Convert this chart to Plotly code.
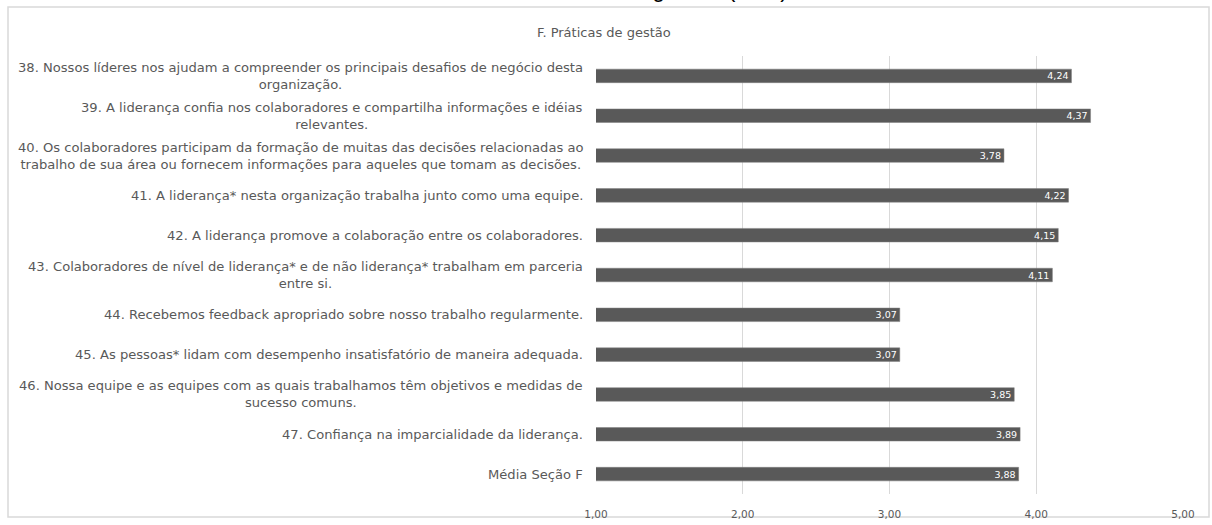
import plotly.graph_objects as go

# Survey items (section F) and their mean scores
itens = [
    "38. Nossos líderes nos ajudam a compreender os principais desafios de negócio desta<br>organização.",
    "39. A liderança confia nos colaboradores e compartilha informações e idéias<br>relevantes.",
    "40. Os colaboradores participam da formação de muitas das decisões relacionadas ao<br>trabalho de sua área ou fornecem informações para aqueles que tomam as decisões.",
    "41. A liderança* nesta organização trabalha junto como uma equipe.",
    "42. A liderança promove a colaboração entre os colaboradores.",
    "43. Colaboradores de nível de liderança* e de não liderança* trabalham em parceria<br>entre si.",
    "44. Recebemos feedback apropriado sobre nosso trabalho regularmente.",
    "45. As pessoas* lidam com desempenho insatisfatório de maneira adequada.",
    "46. Nossa equipe e as equipes com as quais trabalhamos têm objetivos e medidas de<br>sucesso comuns.",
    "47. Confiança na imparcialidade da liderança.",
    "Média Seção F",
]
medias = [4.24, 4.37, 3.78, 4.22, 4.15, 4.11, 3.07, 3.07, 3.85, 3.89, 3.88]

eixo_valores = [1, 2, 3, 4, 5]
eixo_rotulos = ["1,00", "2,00", "3,00", "4,00", "5,00"]

titulo_pagina = "Gráfico 6 – Práticas de gestão (3,88)"
titulo_grafico = "F. Práticas de gestão"

W, H = 1212, 525
L, R, T, B = 596, 29, 56, 31
pw, ph = W - L - R, H - T - B


def px_x(p):
    return (p - L) / pw


def px_y(p):
    return (H - B - p) / ph


rotulos_barras = [f"{v:.2f}".replace(".", ",") for v in medias]

fig = go.Figure(
    go.Bar(
        x=medias,
        y=list(range(len(itens))),
        base=0,
        orientation="h",
        width=0.34,
        marker=dict(color="#595959", line=dict(color="#7f7f7f", width=0.5)),
        text=rotulos_barras,
        textposition="inside",
        insidetextanchor="end",
        textangle=0,
        constraintext="none",
        textfont=dict(color="white", size=9.5, family="DejaVu Sans, Arial"),
        hoverinfo="skip",
    )
)

annotations = []
for i, txt in enumerate(itens):
    annotations.append(
        dict(
            x=0, xref="paper", y=i, yref="y",
            text=txt, showarrow=False,
            xanchor="right", yanchor="middle", align="center",
            xshift=-11,
            font=dict(size=13.1, color="#595959", family="DejaVu Sans, Arial"),
        )
    )

annotations.append(
    dict(
        x=px_x(604), xref="paper", y=px_y(32), yref="paper",
        text=titulo_grafico, showarrow=False,
        xanchor="center", yanchor="middle",
        font=dict(size=13, color="#595959", family="DejaVu Sans, Arial"),
    )
)
annotations.append(
    dict(
        x=px_x(600), xref="paper", y=px_y(4), yref="paper",
        text=titulo_pagina, showarrow=False,
        xanchor="center", yanchor="bottom",
        font=dict(size=23, color="#000000", family="Liberation Sans, Arial"),
    )
)

fig.update_layout(
    width=W, height=H,
    margin=dict(l=L, r=R, t=T, b=B, pad=0, autoexpand=False),
    paper_bgcolor="white", plot_bgcolor="white",
    showlegend=False,
    separators=",.",
    annotations=annotations,
    shapes=[
        dict(
            type="rect", xref="paper", yref="paper",
            x0=px_x(8), x1=px_x(1209), y0=px_y(517), y1=px_y(7),
            line=dict(color="#d9d9d9", width=1.5), layer="below",
        )
    ],
    xaxis=dict(
        range=[1, 5],
        tickmode="array", tickvals=eixo_valores, ticktext=eixo_rotulos,
        showgrid=True, gridcolor="#d9d9d9", gridwidth=1,
        zeroline=False, showline=False,
        tickfont=dict(size=10.5, color="#595959", family="DejaVu Sans, Arial"),
        ticks="", ticklabelstandoff=12,
        automargin=False,
        fixedrange=True,
    ),
    yaxis=dict(
        range=[len(itens) - 0.5, -0.5],
        showticklabels=False, showgrid=False, zeroline=False,
        showline=False, ticks="",
        automargin=False,
        fixedrange=True,
    ),
)

fig.write_html("out.html")
